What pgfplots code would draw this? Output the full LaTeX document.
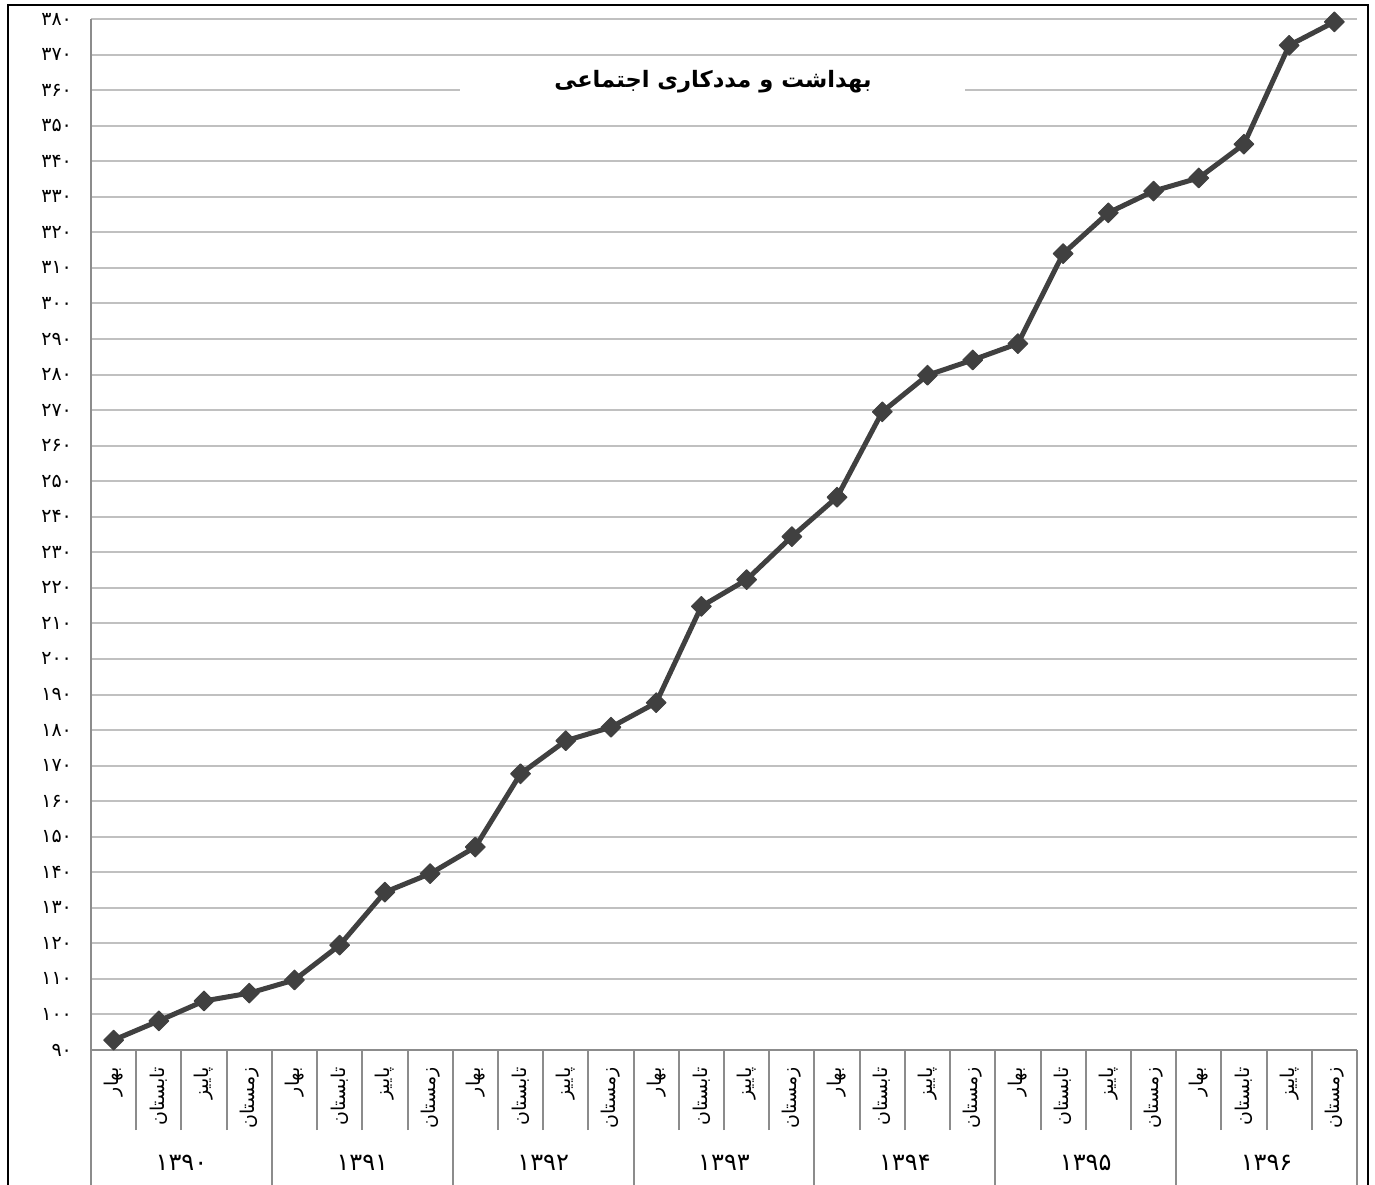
\documentclass[border=0pt]{standalone}
\usepackage{fontspec}
\usepackage{pgfplots}
\pgfplotsset{compat=1.18}
\TeXXeTstate=1
\newfontfamily\arabicfont[Script=Arabic]{DejaVu Sans}
\definecolor{linegray}{HTML}{404040}
\definecolor{gridgray}{HTML}{C0C0C0}
\definecolor{axisgray}{HTML}{8C8C8C}
\newcommand{\sA}{\beginR بهار\endR}
\newcommand{\sB}{\beginR تابستان\endR}
\newcommand{\sC}{\beginR پاییز\endR}
\newcommand{\sD}{\beginR زمستان\endR}
\begin{document}
\begin{tikzpicture}
\useasboundingbox (0,0) rectangle (687.5pt,-592pt);
\begin{axis}[
  at={(45.5pt,-525pt)}, anchor=south west,
  scale only axis, width=633pt, height=515.5pt,
  xmin=-0.5, xmax=27.5, ymin=90, ymax=380,
  clip=false,
  axis x line*=bottom, axis y line*=left,
  axis line style={-, draw=axisgray, line width=1pt},
  ymajorgrids, major grid style={draw=gridgray, line width=1pt},
  ytick={90,100,...,380},
  yticklabels={۹۰,۱۰۰,۱۱۰,۱۲۰,۱۳۰,۱۴۰,۱۵۰,۱۶۰,۱۷۰,۱۸۰,۱۹۰,۲۰۰,۲۱۰,۲۲۰,۲۳۰,۲۴۰,۲۵۰,۲۶۰,۲۷۰,۲۸۰,۲۹۰,۳۰۰,۳۱۰,۳۲۰,۳۳۰,۳۴۰,۳۵۰,۳۶۰,۳۷۰,۳۸۰},
  y tick label style={font=\arabicfont\fontsize{9.5}{10}\selectfont, xshift=-6pt},
  xtick={0,...,27},
  xticklabels={\sA,\sB,\sC,\sD,\sA,\sB,\sC,\sD,\sA,\sB,\sC,\sD,\sA,\sB,\sC,\sD,\sA,\sB,\sC,\sD,\sA,\sB,\sC,\sD,\sA,\sB,\sC,\sD},
  x tick label style={yshift=-5pt, rotate=90, anchor=east, font=\arabicfont\fontsize{9.5}{10}\selectfont},
  tick align=outside,
  major tick length=0pt,
  tick style={draw=axisgray, line width=1pt},
  minor xtick={-0.5,3.5,...,27.5},
  minor tick length=80pt,
  extra x ticks={-0.5,0.5,...,27.5},
  extra x tick labels={},
  extra x tick style={major tick length=40pt},
]
\addplot[color=linegray, line width=2.5pt, line join=round, mark=square*, mark size=3.5pt,
  mark options={rotate=45, fill=linegray, draw=linegray, line width=0.5pt}] coordinates {
(0,92.8) (1,98.2) (2,103.8) (3,106) (4,109.7) (5,119.5) (6,134.4) (7,139.6)
(8,147.1) (9,167.7) (10,177.0) (11,180.8) (12,187.7) (13,214.8) (14,222.3) (15,234.4)
(16,245.5) (17,269.5) (18,279.8) (19,284.1) (20,288.7) (21,314) (22,325.5) (23,331.6)
(24,335.3) (25,344.8) (26,372.6) (27,379.2)
};
\node[font=\arabicfont\fontsize{12}{14}\selectfont] at ([yshift=-56.5pt]axis cs:1.5,90) {۱۳۹۰};
\node[font=\arabicfont\fontsize{12}{14}\selectfont] at ([yshift=-56.5pt]axis cs:5.5,90) {۱۳۹۱};
\node[font=\arabicfont\fontsize{12}{14}\selectfont] at ([yshift=-56.5pt]axis cs:9.5,90) {۱۳۹۲};
\node[font=\arabicfont\fontsize{12}{14}\selectfont] at ([yshift=-56.5pt]axis cs:13.5,90) {۱۳۹۳};
\node[font=\arabicfont\fontsize{12}{14}\selectfont] at ([yshift=-56.5pt]axis cs:17.5,90) {۱۳۹۴};
\node[font=\arabicfont\fontsize{12}{14}\selectfont] at ([yshift=-56.5pt]axis cs:21.5,90) {۱۳۹۵};
\node[font=\arabicfont\fontsize{12}{14}\selectfont] at ([yshift=-56.5pt]axis cs:25.5,90) {۱۳۹۶};
\end{axis}
\fill[white] (230pt,-30pt) rectangle (482.5pt,-59pt);
\node[font=\arabicfont\bfseries\fontsize{11.3}{13}\selectfont] at (356.5pt,-41pt) {\beginR بهداشت و مددکاری اجتماعی\endR};
\draw[black, line width=1.2pt] (4pt,-600pt) -- (4pt,-2.5pt) -- (684pt,-2.5pt) -- (684pt,-600pt);
\end{tikzpicture}
\end{document}
